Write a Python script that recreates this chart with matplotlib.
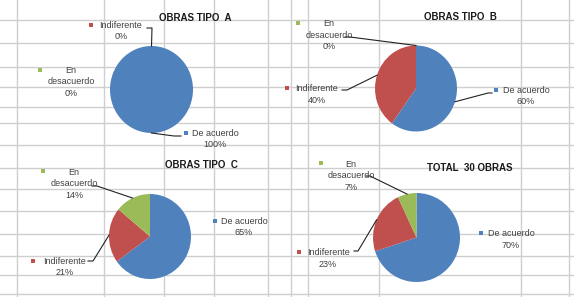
import numpy as np
import matplotlib
matplotlib.use("Agg")
import matplotlib.pyplot as plt

# ---- data -------------------------------------------------------------
CATEGORIES = ["De acuerdo", "Indiferente", "En desacuerdo"]
TIPO_A = [100, 0, 0]
TIPO_B = [60, 40, 0]
TIPO_C = [65, 21, 14]
TOTAL_30 = [70, 23, 7]
TITLES = ["OBRAS TIPO  A", "OBRAS TIPO  B", "OBRAS TIPO  C", "TOTAL  30 OBRAS"]

COLORS = ["#4F81BD", "#C0504D", "#9BBB59"]
TEXT_COLOR = "#404040"
GRID_COLOR = "#cfcfcf"

W, H = 574, 297

# spreadsheet cell borders behind the charts (pixels)
GRID_X = [17, 104, 164, 214, 268, 291, 308, 379, 521, 569]
GRID_Y = [20, 43, 67, 87, 107, 123, 145, 168, 189, 211, 234, 256, 275, 294]

# layout of each chart: pie centre / radii, title position,
# label square + text centre per category, leader elbow points
LAYOUT = [
    dict(center=(151.5, 89.5), r=(41.5, 43.5), title=(195, 18),
         squares=[(186, 133), (91, 25), (40, 70)],
         texts=[(215, 139), (121, 31), (71, 82)],
         leaders=[[(174, 136), (181, 136)], [(152, 28), (147, 28)], None]),
    dict(center=(416, 88.5), r=(41, 43), title=(460, 17),
         squares=[(496, 90), (287, 88), (298, 23)],
         texts=[(526, 96), (317, 94.5), (329, 35)],
         leaders=[[(488, 93), (492, 93)], [(347, 90), (342, 90)],
                  [(350, 37), (345, 37)]]),
    dict(center=(150, 236.5), r=(41, 42.5), title=(201, 165),
         squares=[(215, 221), (33, 261), (43, 171)],
         texts=[(244, 227), (65, 267), (74, 184)],
         leaders=[None, [(93, 261), (88, 261)], [(97, 186), (92, 186)]]),
    dict(center=(416.5, 237.5), r=(43.5, 44.5), title=(470, 168),
         squares=[(481, 233), (299, 252), (321, 163)],
         texts=[(511, 239.5), (328, 258.5), (351, 176)],
         leaders=[None, [(358, 251), (354, 251)], [(370, 176), (366, 176)]]),
]

SERIES = [TIPO_A, TIPO_B, TIPO_C, TOTAL_30]

plt.rcParams["font.family"] = ["Liberation Sans", "DejaVu Sans"]

fig = plt.figure(figsize=(W / 100, H / 100), dpi=100)
fig.patch.set_facecolor("white")

# background grid (spreadsheet)
bg = fig.add_axes([0, 0, 1, 1])
bg.set_xlim(0, W)
bg.set_ylim(H, 0)
bg.axis("off")
for gx in GRID_X:
    bg.axvline(gx, color=GRID_COLOR, lw=1.0)
for gy in GRID_Y:
    bg.axhline(gy, color=GRID_COLOR, lw=1.0)

# pies
for values, lay in zip(SERIES, LAYOUT):
    cx, cy = lay["center"]
    rx, ry = lay["r"]
    ax = fig.add_axes([(cx - rx) / W, 1 - (cy + ry) / H, 2 * rx / W, 2 * ry / H])
    ax.pie(values, colors=COLORS, startangle=90, counterclock=False,
           radius=1, wedgeprops=dict(linewidth=0))
    ax.set_xlim(-1, 1)
    ax.set_ylim(-1, 1)
    ax.set_aspect("auto")
    ax.axis("off")

# overlay for labels / leaders / titles
ov = fig.add_axes([0, 0, 1, 1])
ov.set_xlim(0, W)
ov.set_ylim(H, 0)
ov.axis("off")
ov.patch.set_alpha(0)

for values, lay, title in zip(SERIES, LAYOUT, TITLES):
    cx, cy = lay["center"]
    rx, ry = lay["r"]
    ov.text(lay["title"][0], lay["title"][1], title, ha="center", va="center",
            fontsize=7, fontweight="bold", color="#1a1a1a")

    total = float(sum(values))
    cum = np.cumsum([0] + list(values))
    for i, cat in enumerate(CATEGORIES):
        mid = 90 - 360 * (cum[i] + values[i] / 2) / total
        ex = cx + rx * np.cos(np.radians(mid))
        ey = cy - ry * np.sin(np.radians(mid))

        sx, sy = lay["squares"][i]
        ov.scatter([sx], [sy], marker="s", s=12, color=COLORS[i], lw=0)

        tx, ty = lay["texts"][i]
        name = "En\ndesacuerdo" if cat == "En desacuerdo" else cat
        ov.text(tx, ty, f"{name}\n{values[i]}%", ha="center", va="center",
                fontsize=6.5, color=TEXT_COLOR, linespacing=1.3)

        if lay["leaders"][i] is not None:
            pts = [(ex, ey)] + lay["leaders"][i]
            xs, ys = zip(*pts)
            ov.plot(xs, ys, color="#222222", lw=0.8)

fig.savefig("out.png", dpi=100)
